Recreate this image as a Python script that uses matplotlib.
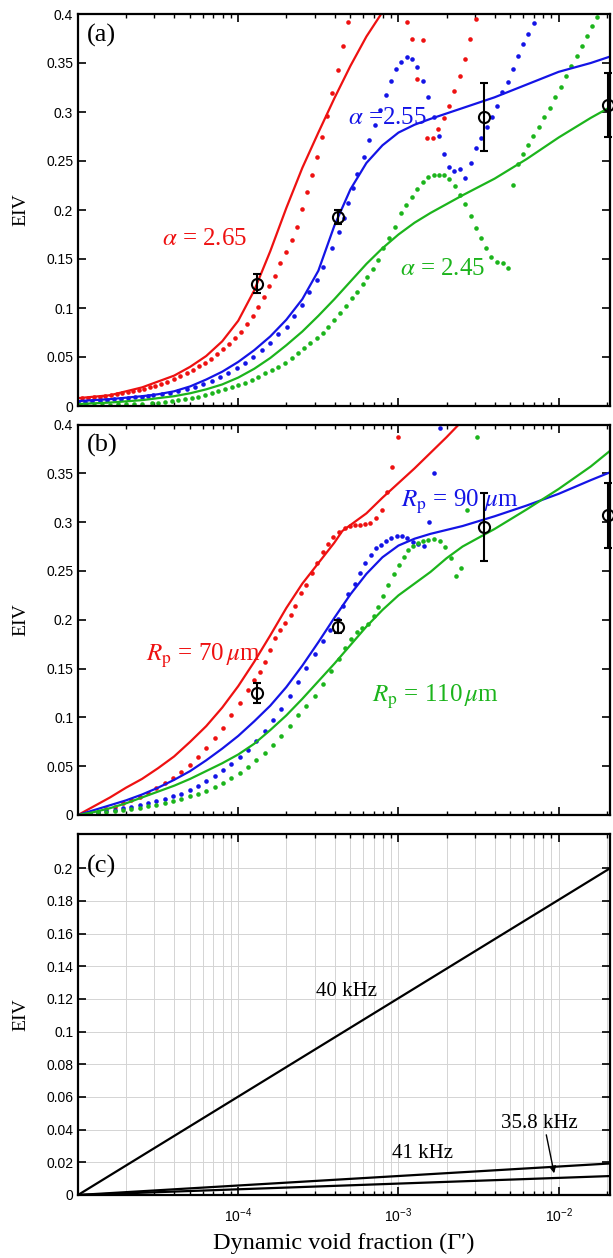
import numpy as np
import matplotlib
matplotlib.use("Agg")
import matplotlib.pyplot as plt
from matplotlib.ticker import LogLocator, FuncFormatter, NullFormatter, MultipleLocator, FixedLocator

RED = "#ee1111"
BLUE = "#1414e6"
GREEN = "#1cb41c"

# measured EIV (same four points in panels a and b)
exp_x = [1.31e-4, 4.2e-4, 3.42e-3, 2.02e-2]
exp_y = [0.125, 0.193, 0.295, 0.307]
exp_err = [0.010, 0.007, 0.035, 0.033]

# ---- panel (a): x given as log10(void fraction)
a_red_line_lx = [-5.0, -4.9, -4.8, -4.7, -4.6, -4.5, -4.4, -4.3, -4.2, -4.1, -4.0, -3.9,
                 -3.8, -3.7, -3.6, -3.5, -3.4, -3.3, -3.2, -3.1, -3.0]
a_red_line_y = [0.008, 0.0095, 0.011, 0.015, 0.019, 0.025, 0.031, 0.04, 0.051, 0.066, 0.087, 0.118,
                0.158, 0.202, 0.243, 0.279, 0.314, 0.347, 0.377, 0.402, 0.425]
a_blue_line_lx = [-5.0, -4.8, -4.6, -4.5, -4.4, -4.3, -4.2, -4.1, -4.0, -3.9, -3.8, -3.7,
                  -3.6, -3.5, -3.4, -3.3, -3.2, -3.1, -3.0, -2.9, -2.8, -2.6, -2.4, -2.2,
                  -2.0, -1.8, -1.69]
a_blue_line_y = [0.005, 0.007, 0.01, 0.012, 0.015, 0.02, 0.027, 0.035, 0.045, 0.057, 0.071, 0.088,
                 0.109, 0.138, 0.184, 0.221, 0.248, 0.266, 0.279, 0.287, 0.293, 0.304, 0.315, 0.328,
                 0.341, 0.35, 0.356]
a_green_line_lx = [-5.0, -4.8, -4.6, -4.5, -4.4, -4.3, -4.2, -4.1, -4.0, -3.9, -3.8, -3.7,
                   -3.6, -3.5, -3.4, -3.3, -3.2, -3.1, -3.0, -2.9, -2.8, -2.7, -2.6, -2.4,
                   -2.2, -2.0, -1.8, -1.69]
a_green_line_y = [0.002, 0.0035, 0.006, 0.008, 0.01, 0.013, 0.017, 0.022, 0.029, 0.038, 0.049, 0.062,
                  0.076, 0.092, 0.109, 0.127, 0.145, 0.161, 0.175, 0.187, 0.197, 0.206, 0.215, 0.232,
                  0.252, 0.274, 0.294, 0.304]

a_red_dot_lx = [-4.975, -4.938, -4.9, -4.863, -4.831, -4.794, -4.757, -4.725, -4.688, -4.657,
                -4.619, -4.588, -4.551, -4.519, -4.482, -4.444, -4.401, -4.363, -4.32, -4.282,
                -4.245, -4.207, -4.17, -4.132, -4.095, -4.057, -4.02, -3.983, -3.945, -3.908,
                -3.876, -3.839, -3.808, -3.77, -3.739, -3.702, -3.664, -3.633, -3.602, -3.571,
                -3.539, -3.508, -3.477, -3.446, -3.414, -3.377, -3.346, -3.315,
                -2.946, -2.915, -2.884, -2.847, -2.821, -2.784, -2.753, -2.715, -2.684, -2.653,
                -2.615, -2.584, -2.553, -2.516]
a_red_dot_y = [0.008, 0.0085, 0.009, 0.0095, 0.01, 0.011, 0.012, 0.013, 0.014, 0.015,
               0.016, 0.0175, 0.019, 0.0205, 0.0225, 0.025, 0.028, 0.031, 0.034, 0.037,
               0.041, 0.044, 0.048, 0.053, 0.058, 0.063, 0.069, 0.076, 0.084, 0.092,
               0.101, 0.1115, 0.122, 0.133, 0.146, 0.1575, 0.169, 0.183, 0.201, 0.218,
               0.236, 0.254, 0.275, 0.296, 0.319, 0.343, 0.367, 0.392,
               0.392, 0.374, 0.334, 0.373, 0.273, 0.273, 0.283, 0.294, 0.306, 0.321,
               0.337, 0.354, 0.374, 0.395]
a_blue_dot_lx = [-5.0, -4.956, -4.913, -4.863, -4.819, -4.775, -4.732, -4.688, -4.644, -4.6,
                 -4.563, -4.532, -4.476, -4.426, -4.376, -4.32, -4.27, -4.22, -4.164, -4.114,
                 -4.064, -4.007, -3.958, -3.908, -3.851, -3.801, -3.752, -3.695, -3.652, -3.602,
                 -3.558, -3.508, -3.471, -3.414, -3.371, -3.34, -3.315, -3.283, -3.258, -3.215,
                 -3.184, -3.146, -3.115, -3.077, -3.046, -3.015, -2.984, -2.946, -2.915, -2.884,
                 -2.847, -2.815, -2.778, -2.747, -2.715, -2.684, -2.653, -2.615, -2.584, -2.547,
                 -2.516, -2.484, -2.447, -2.416, -2.384, -2.353, -2.316, -2.285, -2.253, -2.222,
                 -2.191, -2.153]
a_blue_dot_y = [0.004, 0.0045, 0.005, 0.0055, 0.006, 0.007, 0.0075, 0.008, 0.009, 0.0095,
                0.0105, 0.0112, 0.0122, 0.0136, 0.0153, 0.017, 0.0197, 0.0224, 0.0255, 0.0293,
                0.0333, 0.0385, 0.0436, 0.0503, 0.057, 0.064, 0.0735, 0.081, 0.0918, 0.103,
                0.1166, 0.1286, 0.1415, 0.161, 0.178, 0.192, 0.2075, 0.222, 0.237, 0.254,
                0.271, 0.287, 0.302, 0.317, 0.332, 0.344, 0.351, 0.356, 0.354, 0.346,
                0.332, 0.315, 0.295, 0.2755, 0.257, 0.2435, 0.24, 0.2415, 0.233, 0.248,
                0.263, 0.273, 0.285, 0.2946, 0.306, 0.32, 0.331, 0.3436, 0.357, 0.369,
                0.38, 0.391]
a_green_dot_lx = [-5.0, -4.95, -4.9, -4.85, -4.8, -4.75, -4.7, -4.65, -4.6, -4.538,
                  -4.501, -4.457, -4.413, -4.376, -4.332, -4.288, -4.251, -4.207, -4.164, -4.126,
                  -4.082, -4.039, -4.001, -3.958, -3.914, -3.876, -3.833, -3.789, -3.752, -3.708,
                  -3.664, -3.627, -3.589, -3.552, -3.508, -3.471, -3.439, -3.402, -3.365, -3.327,
                  -3.29, -3.258, -3.221, -3.196, -3.159, -3.127, -3.096, -3.059, -3.021, -2.984,
                  -2.953, -2.915, -2.884, -2.847, -2.815, -2.778, -2.747, -2.715, -2.684, -2.647,
                  -2.615, -2.584, -2.547, -2.516, -2.484, -2.453, -2.422, -2.384, -2.347, -2.316,
                  -2.285, -2.253, -2.222, -2.191, -2.16, -2.122, -2.091, -2.054, -2.022, -1.985,
                  -1.954, -1.923, -1.885, -1.854, -1.823, -1.791, -1.76]
a_green_dot_y = [0.0005, 0.0008, 0.001, 0.0012, 0.0015, 0.0017, 0.002, 0.0022, 0.0024, 0.0027,
                 0.0034, 0.0041, 0.0048, 0.0058, 0.0068, 0.0082, 0.0095, 0.0112, 0.013, 0.0153,
                 0.017, 0.019, 0.0214, 0.0238, 0.0265, 0.03, 0.0333, 0.0367, 0.0401, 0.0442,
                 0.0487, 0.0538, 0.0589, 0.064, 0.069, 0.0748, 0.081, 0.0878, 0.0946, 0.102,
                 0.11, 0.1166, 0.125, 0.132, 0.1395, 0.149, 0.161, 0.171, 0.183, 0.1966,
                 0.205, 0.213, 0.221, 0.229, 0.2333, 0.2357, 0.2357, 0.2357, 0.2313, 0.224,
                 0.215, 0.206, 0.194, 0.182, 0.171, 0.161, 0.152, 0.147, 0.1456, 0.141,
                 0.2255, 0.247, 0.257, 0.266, 0.2755, 0.285, 0.2946, 0.3044, 0.315, 0.326,
                 0.337, 0.347, 0.3575, 0.367, 0.3776, 0.388, 0.3973]

# ---- panel (b)
b_red_line_lx = [-5.0, -4.9, -4.8, -4.7, -4.6, -4.5, -4.4, -4.3, -4.2, -4.1, -4.0, -3.9,
                 -3.8, -3.7, -3.6, -3.5, -3.4, -3.35, -3.3, -3.2, -3.1, -3.0, -2.9, -2.8,
                 -2.7, -2.6]
b_red_line_y = [0.0, 0.009, 0.018, 0.028, 0.037, 0.048, 0.06, 0.075, 0.091, 0.11, 0.132, 0.157,
                0.184, 0.212, 0.237, 0.258, 0.279, 0.291, 0.297, 0.309, 0.325, 0.34, 0.355, 0.371,
                0.387, 0.404]
b_blue_line_lx = [-5.0, -4.9, -4.8, -4.7, -4.6, -4.5, -4.4, -4.3, -4.2, -4.1, -4.0, -3.9,
                  -3.8, -3.7, -3.6, -3.5, -3.4, -3.3, -3.2, -3.1, -3.0, -2.9, -2.8, -2.6,
                  -2.4, -2.2, -2.0, -1.8, -1.68]
b_blue_line_y = [0.0, 0.005, 0.01, 0.015, 0.021, 0.028, 0.036, 0.045, 0.056, 0.068, 0.081, 0.096,
                 0.112, 0.131, 0.153, 0.177, 0.202, 0.226, 0.247, 0.264, 0.276, 0.283, 0.288, 0.296,
                 0.306, 0.317, 0.329, 0.343, 0.351]
b_green_line_lx = [-5.0, -4.9, -4.8, -4.7, -4.6, -4.5, -4.4, -4.3, -4.2, -4.1, -4.0, -3.9,
                   -3.8, -3.7, -3.6, -3.5, -3.4, -3.3, -3.2, -3.1, -3.0, -2.9, -2.8, -2.7,
                   -2.6, -2.4, -2.2, -2.0, -1.8, -1.68]
b_green_line_y = [0.0, 0.003, 0.007, 0.012, 0.018, 0.024, 0.03, 0.037, 0.045, 0.053, 0.062, 0.073,
                  0.087, 0.102, 0.119, 0.137, 0.155, 0.174, 0.193, 0.21, 0.225, 0.237, 0.249, 0.263,
                  0.275, 0.293, 0.313, 0.334, 0.357, 0.373]

b_red_dot_lx = [-4.981, -4.925, -4.875, -4.825, -4.769, -4.719, -4.669, -4.613, -4.563, -4.513,
                -4.457, -4.407, -4.357, -4.301, -4.251, -4.201, -4.145, -4.095, -4.045, -3.989,
                -3.939, -3.902, -3.864, -3.833, -3.801, -3.77, -3.739, -3.708, -3.67, -3.645,
                -3.608, -3.577, -3.539, -3.508, -3.471, -3.439, -3.408, -3.371, -3.333, -3.302,
                -3.271, -3.24, -3.208, -3.177, -3.14, -3.102, -3.071, -3.04, -3.002]
b_red_dot_y = [0.0, 0.002, 0.0034, 0.0058, 0.0085, 0.012, 0.0154, 0.0187, 0.0228, 0.0273,
               0.0324, 0.0376, 0.0444, 0.0512, 0.0597, 0.0683, 0.0785, 0.0894, 0.1024, 0.1144,
               0.128, 0.138, 0.1468, 0.157, 0.169, 0.181, 0.189, 0.197, 0.205, 0.214,
               0.227, 0.236, 0.248, 0.258, 0.269, 0.278, 0.285, 0.29, 0.294, 0.296,
               0.297, 0.297, 0.298, 0.299, 0.304, 0.312, 0.331, 0.356, 0.387]
b_blue_dot_lx = [-4.981, -4.925, -4.875, -4.825, -4.769, -4.719, -4.669, -4.613, -4.563, -4.513,
                 -4.457, -4.407, -4.357, -4.301, -4.251, -4.201, -4.145, -4.095, -4.045, -3.989,
                 -3.939, -3.889, -3.833, -3.782, -3.733, -3.677, -3.627, -3.577, -3.521, -3.471,
                 -3.427, -3.377, -3.346, -3.315, -3.271, -3.24, -3.208, -3.171, -3.14, -3.109,
                 -3.077, -3.046, -3.009, -2.978, -2.946, -2.909, -2.878, -2.84, -2.809, -2.778,
                 -2.74]
b_blue_dot_y = [0.0, 0.0015, 0.003, 0.004, 0.0055, 0.007, 0.0085, 0.01, 0.012, 0.014,
                0.016, 0.019, 0.022, 0.026, 0.03, 0.035, 0.04, 0.046, 0.052, 0.059,
                0.067, 0.076, 0.086, 0.097, 0.109, 0.122, 0.136, 0.151, 0.165, 0.178,
                0.19, 0.201, 0.214, 0.226, 0.237, 0.248, 0.258, 0.266, 0.273, 0.277,
                0.281, 0.284, 0.2857, 0.286, 0.2834, 0.28, 0.2775, 0.2755, 0.3, 0.3506,
                0.396]
b_green_dot_lx = [-4.981, -4.925, -4.875, -4.825, -4.769, -4.719, -4.669, -4.613, -4.563, -4.513,
                  -4.457, -4.407, -4.357, -4.301, -4.251, -4.201, -4.145, -4.095, -4.045, -3.989,
                  -3.939, -3.889, -3.833, -3.782, -3.733, -3.677, -3.627, -3.577, -3.521, -3.471,
                  -3.421, -3.371, -3.333, -3.296, -3.258, -3.227, -3.19, -3.152, -3.127, -3.096,
                  -3.065, -3.027, -2.996, -2.965, -2.94, -2.909, -2.878, -2.847, -2.815, -2.778,
                  -2.74, -2.709, -2.672, -2.64, -2.609, -2.572, -2.509]
b_green_dot_y = [0.0, 0.001, 0.002, 0.003, 0.004, 0.005, 0.006, 0.0075, 0.009, 0.0105,
                 0.012, 0.014, 0.016, 0.019, 0.022, 0.025, 0.029, 0.033, 0.038, 0.043,
                 0.049, 0.056, 0.064, 0.072, 0.081, 0.091, 0.102, 0.112, 0.122, 0.134,
                 0.147, 0.16, 0.171, 0.18, 0.187, 0.192, 0.196, 0.204, 0.213, 0.224,
                 0.236, 0.247, 0.256, 0.264, 0.271, 0.276, 0.279, 0.281, 0.282, 0.2826,
                 0.2806, 0.2748, 0.2636, 0.2452, 0.2534, 0.3124, 0.3874]

# ---- panel (c): straight lines in log x
c_x = [1e-5, 2.09e-2]
c_40k = [0.0, 0.2]
c_41k = [0.0, 0.0193]
c_358k = [0.0, 0.0116]
c_yticks = [0, 0.02, 0.04, 0.06, 0.08, 0.1, 0.12, 0.14, 0.16, 0.18, 0.2]

XMIN, XMAX = 1e-5, 2.09e-2

plt.rcParams["font.family"] = ["Liberation Sans", "DejaVu Sans"]
SERIF = ["Liberation Serif", "DejaVu Serif"]

fig = plt.figure(figsize=(6.13, 12.58), dpi=100)
L, W = 78 / 613, 532 / 613
ax_a = fig.add_axes([L, 852 / 1258, W, 392 / 1258])
ax_b = fig.add_axes([L, 443 / 1258, W, 390.5 / 1258])
ax_c = fig.add_axes([L, 63 / 1258, W, 361 / 1258])


def style(ax, ymax, ystep, show_x):
    ax.set_xscale("log")
    ax.set_xlim(XMIN, XMAX)
    ax.set_ylim(0, ymax)
    ax.yaxis.set_major_locator(MultipleLocator(ystep))
    ax.yaxis.set_major_formatter(FuncFormatter(lambda v, p: f"{v:g}"))
    ax.xaxis.set_major_locator(LogLocator(base=10, numticks=10))
    ax.xaxis.set_minor_locator(LogLocator(base=10, subs=np.arange(2, 10), numticks=20))
    ax.xaxis.set_minor_formatter(NullFormatter())
    ax.tick_params(which="both", direction="in", top=True, right=True, labelsize=10,
                   labelbottom=show_x)
    ax.tick_params(which="major", length=6, width=1.2)
    ax.tick_params(which="minor", length=3, width=1)
    for s in ax.spines.values():
        s.set_linewidth(1.6)
    ax.set_ylabel("EIV", family=SERIF, fontsize=14)
    ax.yaxis.set_label_coords(-0.092, 0.5)


def lx(v):
    return 10 ** np.array(v)


# --- (a)
ax = ax_a
style(ax, 0.4, 0.05, False)
for dlx, dy, c in [(a_red_dot_lx, a_red_dot_y, RED), (a_blue_dot_lx, a_blue_dot_y, BLUE),
                   (a_green_dot_lx, a_green_dot_y, GREEN)]:
    ax.plot(lx(dlx), dy, ls="none", marker="o", ms=3.3, mew=0, color=c)
for llx, ly, c in [(a_red_line_lx, a_red_line_y, RED), (a_blue_line_lx, a_blue_line_y, BLUE),
                   (a_green_line_lx, a_green_line_y, GREEN)]:
    ax.plot(lx(llx), ly, color=c, lw=1.6)
ax.errorbar(exp_x, exp_y, yerr=exp_err, fmt="o", mfc="none", mec="k", ecolor="k", ms=8,
            mew=1.5, elinewidth=1.5, capsize=3, capthick=1.5, zorder=5, clip_on=False)
ax.text(0.017, 0.945, "(a)", transform=ax.transAxes, family=SERIF, fontsize=19, va="center")
kw = dict(family=SERIF, fontsize=18, ha="center", va="baseline", math_fontfamily="stix")
ax.text(10 ** -4.213, 0.164, r"$\alpha$ = 2.65", color=RED, **kw)
ax.text(10 ** -3.071, 0.288, r"$\alpha$ =2.55", color=BLUE, **kw)
ax.text(10 ** -2.722, 0.134, r"$\alpha$ = 2.45", color=GREEN, **kw)

# --- (b)
ax = ax_b
style(ax, 0.4, 0.05, False)
for dlx, dy, c in [(b_red_dot_lx, b_red_dot_y, RED), (b_blue_dot_lx, b_blue_dot_y, BLUE),
                   (b_green_dot_lx, b_green_dot_y, GREEN)]:
    ax.plot(lx(dlx), dy, ls="none", marker="o", ms=3.3, mew=0, color=c)
for llx, ly, c in [(b_red_line_lx, b_red_line_y, RED), (b_blue_line_lx, b_blue_line_y, BLUE),
                   (b_green_line_lx, b_green_line_y, GREEN)]:
    ax.plot(lx(llx), ly, color=c, lw=1.6)
ax.errorbar(exp_x, exp_y, yerr=exp_err, fmt="o", mfc="none", mec="k", ecolor="k", ms=8,
            mew=1.5, elinewidth=1.5, capsize=3, capthick=1.5, zorder=5, clip_on=False)
ax.text(0.017, 0.947, "(b)", transform=ax.transAxes, family=SERIF, fontsize=19, va="center")
ax.text(10 ** -4.217, 0.158, r"$R_\mathrm{p}$ = 70$\,\mu$m", color=RED, **kw)
ax.text(10 ** -2.619, 0.316, r"$R_\mathrm{p}$ = 90 $\mu$m", color=BLUE, **kw)
ax.text(10 ** -2.771, 0.116, r"$R_\mathrm{p}$ = 110$\,\mu$m", color=GREEN, **kw)

# --- (c)
ax = ax_c
style(ax, 0.221, 0.02, True)
ax.yaxis.set_major_locator(FixedLocator(c_yticks))
ax.set_axisbelow(True)
ax.grid(True, which="major", color="#d4d4d4", lw=0.7)
ax.grid(True, which="minor", axis="x", color="#d4d4d4", lw=0.7)
ax.set_xticks([1e-4, 1e-3, 1e-2])
ax.tick_params(axis="x", which="major", pad=8)
for y in (c_40k, c_41k, c_358k):
    ax.plot(c_x, y, color="k", lw=1.6)
ax.text(0.017, 0.909, "(c)", transform=ax.transAxes, family=SERIF, fontsize=19, va="center")
kc = dict(family=SERIF, fontsize=15, ha="center", va="baseline")
ax.text(10 ** -3.327, 0.1216, "40 kHz", **kc)
ax.text(10 ** -2.85, 0.0224, "41 kHz", **kc)
ax.text(10 ** -2.122, 0.0408, "35.8 kHz", **kc)
ax.annotate("", xy=(9.44e-3, 0.0116), xytext=(8.3e-3, 0.0385),
            arrowprops=dict(arrowstyle="-|>", color="k", lw=1, mutation_scale=10))
ax.set_xlabel("Dynamic void fraction (\u0393\u2032)", family=SERIF, fontsize=17.5, labelpad=6)

fig.savefig("out.png", dpi=100)
